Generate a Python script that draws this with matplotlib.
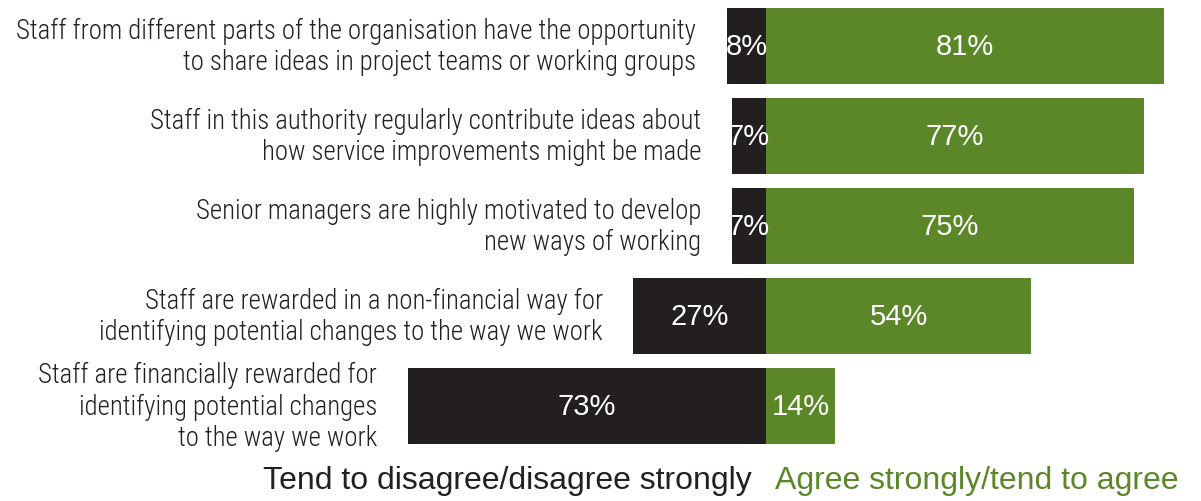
import matplotlib.pyplot as plt
from matplotlib import font_manager

# statements, top to bottom
labels = [
    "Staff from different parts of the organisation have the opportunity\nto share ideas in project teams or working groups",
    "Staff in this authority regularly contribute ideas about\nhow service improvements might be made",
    "Senior managers are highly motivated to develop\nnew ways of working",
    "Staff are rewarded in a non-financial way for\nidentifying potential changes to the way we work",
    "Staff are financially rewarded for\nidentifying potential changes\nto the way we work",
]
disagree = [8, 7, 7, 27, 73]
agree = [81, 77, 75, 54, 14]

dark = "#231f20"
green = "#5b8729"

names = {f.name for f in font_manager.fontManager.ttflist}
narrow = "Roboto Condensed" if "Roboto Condensed" in names else "DejaVu Sans"

fig = plt.figure(figsize=(12.01, 5.02), dpi=100)
ax = fig.add_axes([0, 0, 1, 1])
# center of the diverging axis sits at ~766 px, ~4.91 px per percent
ax.set_xlim(-766 / 4.91, (1201 - 766) / 4.91)
ax.set_ylim((502 - 47) / 90, -47 / 90)
ax.axis("off")

ys = range(len(labels))
ax.barh(ys, [-d for d in disagree], height=0.835, color=dark)
ax.barh(ys, agree, height=0.835, color=green)

for y, d, a, lab in zip(ys, disagree, agree, labels):
    ax.text(-d / 2, y, f"{d}%", color="white", ha="center", va="center",
            fontsize=21, family="Liberation Sans")
    ax.text(a / 2, y, f"{a}%", color="white", ha="center", va="center",
            fontsize=21, family="Liberation Sans")
    ax.text(-d - 6.2, y, lab, ha="right", va="center", fontsize=19.3,
            family=narrow, fontweight="light", color=dark, linespacing=1.2)

ax.text(-2.9, 4.82, "Tend to disagree/disagree strongly", ha="right", va="center",
        fontsize=23, family="Liberation Sans", color=dark)
ax.text(1.8, 4.82, "Agree strongly/tend to agree", ha="left", va="center",
        fontsize=23, family="Liberation Sans", color=green)

fig.savefig("out.png", dpi=100)
